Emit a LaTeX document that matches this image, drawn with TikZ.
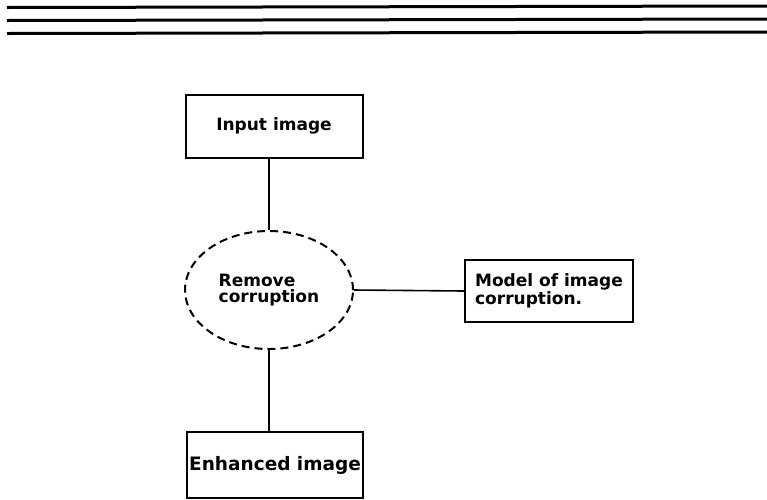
\documentclass[tikz,border=0pt]{standalone}
\usepackage{fontspec}
\setmainfont{DejaVu Sans}
\usetikzlibrary{shapes.geometric}
\begin{document}
\begin{tikzpicture}[x=1pt,y=-1pt,
  rulel/.style={line width=3pt},
  lbl/.style={font=\fontsize{17}{16}\selectfont\bfseries,align=left},
  boxn/.style={draw,line width=2pt,inner sep=0pt,lbl},
  ovaln/.style={draw,ellipse,dash pattern=on 8pt off 5pt,line width=2pt,inner sep=0pt,lbl},
  conn/.style={line width=1.6pt}]
\useasboundingbox (0,0) rectangle (767,499);
\coordinate (r1a) at (7,7.5); \coordinate (r1b) at (767,6);
\coordinate (r2a) at (7,20.5); \coordinate (r2b) at (767,19);
\coordinate (r3a) at (7,33.5); \coordinate (r3b) at (767,32);
\draw[rulel] (r1a) -- (r1b);
\draw[rulel] (r2a) -- (r2b);
\draw[rulel] (r3a) -- (r3b);
\node[boxn,minimum width=177pt,minimum height=63pt] (in) at (274,126) {Input image};
\node[ovaln,minimum width=168pt,minimum height=118pt] (rc) at (269,290) {Remove\\corruption};
\node[boxn,minimum width=168pt,minimum height=62pt] (mc) at (549,291) {Model of image\\corruption.};
\node[boxn,minimum width=176pt,minimum height=66pt,font=\fontsize{18.5}{16}\selectfont\bfseries] (en) at (275,465) {Enhanced image};
\draw[conn] (in.south -| rc.north) -- (rc.north);
\draw[conn] (rc.east) -- (mc.west);
\draw[conn] (rc.south) -- (en.north -| rc.south);
\end{tikzpicture}
\end{document}
